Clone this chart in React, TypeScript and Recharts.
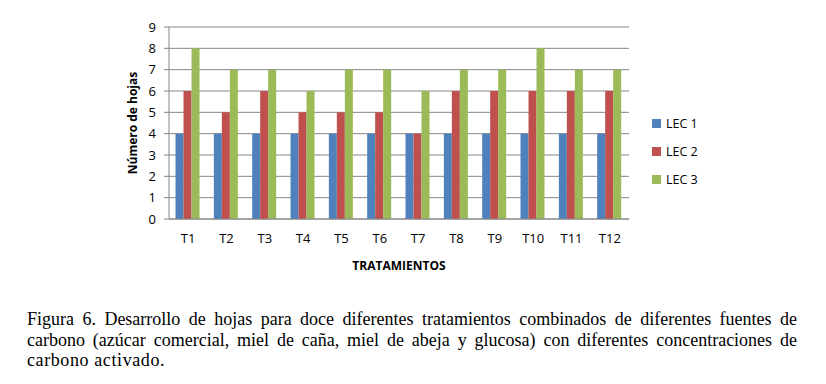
import React from 'react';
import { BarChart, Bar, XAxis, YAxis, CartesianGrid } from 'recharts';

const categories = ['T1', 'T2', 'T3', 'T4', 'T5', 'T6', 'T7', 'T8', 'T9', 'T10', 'T11', 'T12'];
const lec1 = [4, 4, 4, 4, 4, 4, 4, 4, 4, 4, 4, 4];
const lec2 = [6, 5, 6, 5, 5, 5, 4, 6, 6, 6, 6, 6];
const lec3 = [8, 7, 7, 6, 7, 7, 6, 7, 7, 8, 7, 7];
const yTicks = [0, 1, 2, 3, 4, 5, 6, 7, 8, 9];

const seriesNames = ['LEC 1', 'LEC 2', 'LEC 3'];
const seriesColors = ['#4F81BD', '#C0504D', '#9BBB59'];

const captionLines = [
  'Figura 6. Desarrollo de hojas para doce diferentes tratamientos combinados de diferentes fuentes de',
  'carbono (azúcar comercial, miel de caña, miel de abeja y glucosa) con diferentes concentraciones de',
  'carbono activado.',
];

const data = categories.map((c, i) => ({ name: c, lec1: lec1[i], lec2: lec2[i], lec3: lec3[i] }));

const FONT = '"Open Sans", sans-serif';

export default function App() {
  return (
    <div style={{ position: 'fixed', left: 0, top: 0, width: 826, height: 384, background: '#fff' }}>
      <BarChart
        width={826}
        height={290}
        data={data}
        margin={{ top: 27, right: 197, left: 0, bottom: 16 }}
        barCategoryGap="17%"
        barGap={0}
      >
        <CartesianGrid vertical={false} stroke="#868686" strokeWidth={1} />
        <XAxis
          dataKey="name"
          height={55}
          tickLine={false}
          axisLine={{ stroke: '#868686' }}
          tick={{ fill: '#000', fontSize: 13, fontFamily: FONT }}
          tickMargin={9}
          label={{
            value: 'TRATAMIENTOS',
            position: 'insideBottom',
            offset: 4,
            style: { fontFamily: FONT, fontSize: 12, fontWeight: 700, fill: '#000' },
          }}
        />
        <YAxis
          width={169}
          domain={[0, 9]}
          ticks={yTicks}
          interval={0}
          tickSize={5}
          tickMargin={8}
          tickLine={{ stroke: '#868686' }}
          axisLine={{ stroke: '#868686' }}
          tick={{ fill: '#000', fontSize: 13, fontFamily: FONT }}
          label={{
            value: 'Número de hojas',
            angle: -90,
            position: 'center',
            dx: 48,
            style: { fontFamily: FONT, fontSize: 12, fontWeight: 700, fill: '#000', textAnchor: 'middle' },
          }}
        />
        <Bar dataKey="lec1" name={seriesNames[0]} fill={seriesColors[0]} isAnimationActive={false} />
        <Bar dataKey="lec2" name={seriesNames[1]} fill={seriesColors[1]} isAnimationActive={false} />
        <Bar dataKey="lec3" name={seriesNames[2]} fill={seriesColors[2]} isAnimationActive={false} />
      </BarChart>

      {/* legend */}
      <div style={{ position: 'absolute', left: 652, top: 109, fontFamily: FONT, fontSize: 12.5, color: '#000' }}>
        {seriesNames.map((n, i) => (
          <div key={n} style={{ display: 'flex', alignItems: 'center', height: 28 }}>
            <span
              style={{ display: 'inline-block', width: 9, height: 9, background: seriesColors[i], marginRight: 5 }}
            />
            {n}
          </div>
        ))}
      </div>

      <div
        style={{
          position: 'absolute',
          left: 27,
          top: 309,
          width: 770,
          fontFamily: '"Liberation Serif", serif',
          fontSize: 18,
          lineHeight: '20.5px',
          color: '#000',
        }}
      >
        {captionLines.map((l, i) => (
          <div
            key={i}
            style={{
              textAlign: i < captionLines.length - 1 ? 'justify' : 'left',
              textAlignLast: i < captionLines.length - 1 ? 'justify' : 'left',
              whiteSpace: 'nowrap',
              letterSpacing: i === captionLines.length - 1 ? 0.6 : 0,
            }}
          >
            {l}
          </div>
        ))}
      </div>
    </div>
  );
}
